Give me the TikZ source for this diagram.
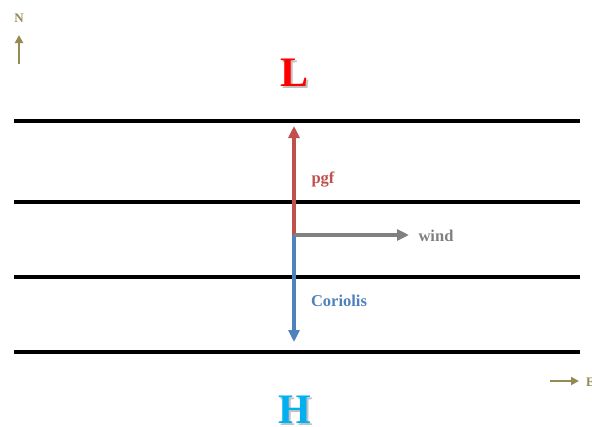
\documentclass[tikz,border=0pt]{standalone}
\usepackage{fontspec}
\setmainfont{Liberation Serif}
\usetikzlibrary{arrows.meta}
\definecolor{pgfred}{HTML}{C0504D}
\definecolor{corblue}{HTML}{4F81BD}
\definecolor{windgray}{HTML}{808080}
\definecolor{olive}{HTML}{948A54}
\definecolor{hcyan}{HTML}{00B0F0}
\tikzset{
  isobar/.style={line width=3.2pt,black},
  vec/.style={line width=3.5pt,-{Triangle[length=12pt,width=11pt]}},
  compass/.style={line width=2.8pt,olive,-{Triangle[length=8pt,width=8pt]}},
  lbl/.style={font=\bfseries\fontsize{16.5}{18}\selectfont,inner sep=0pt},
  small/.style={font=\bfseries\fontsize{13}{15}\selectfont,inner sep=0pt,olive},
  big/.style={font=\bfseries\fontsize{42}{46}\selectfont,inner sep=0pt},
}
\begin{document}
\begin{tikzpicture}[x=1pt,y=-1pt]
\useasboundingbox (0,0) rectangle (592,426);
% isobars
\foreach \y/\n in {121/a,202/b,277/c,352/d}{
  \coordinate (\n l) at (14,\y);
  \coordinate (\n r) at (580,\y);
  \draw[isobar] (\n l) -- (\n r);
}
% vectors
\coordinate (o) at (294,235);
\coordinate (ptip) at (294,126);
\coordinate (ctip) at (294,342);
\coordinate (wtip) at (409,235);
\draw[vec,pgfred] (o) -- (ptip);
\draw[vec,corblue] (o) -- (ctip);
\draw[vec,windgray] (o) -- (wtip);
\node[lbl,pgfred] (pgf) at (323,180) {pgf};
\node[lbl,corblue] (cor) at (339,301) {Coriolis};
\node[lbl,windgray] (wind) at (436,236) {wind};
% L and H with shadow
\node[big,black!35,opacity=0.7] at (296.5,74.5) {L};
\node[big,red] (L) at (294.5,72.5) {L};
\node[big,black!35,opacity=0.7] at (297,412) {H};
\node[big,hcyan] (H) at (295,410) {H};
% compass
\node[small] (N) at (19,18) {N};
\coordinate (nbot) at (19,64);
\coordinate (ntop) at (19,35);
\draw[compass] (nbot) -- (ntop);
\coordinate (eleft) at (550,381);
\coordinate (eright) at (579,381);
\draw[compass] (eleft) -- (eright);
\node[small,anchor=west] (E) at (586,382) {E};
\end{tikzpicture}
\end{document}
